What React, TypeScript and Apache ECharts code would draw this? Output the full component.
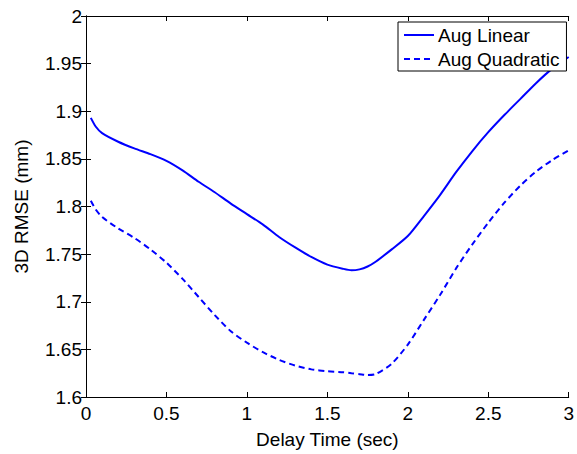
import React, { useEffect, useRef } from "react";
import * as echarts from "echarts";

const delayTimes = [0.03, 0.06, 0.1, 0.2, 0.3, 0.4, 0.5, 0.6, 0.7, 0.8, 0.9, 1.0, 1.1, 1.2, 1.3, 1.4, 1.5, 1.6, 1.65, 1.7, 1.75, 1.8, 1.9, 2.0, 2.1, 2.2, 2.3, 2.4, 2.5, 2.6, 2.7, 2.8, 2.9, 3.0];
const augLinear = [1.893, 1.884, 1.877, 1.868, 1.861, 1.855, 1.848, 1.838, 1.826, 1.815, 1.803, 1.792, 1.781, 1.768, 1.757, 1.747, 1.739, 1.7345, 1.733, 1.734, 1.737, 1.742, 1.755, 1.769, 1.790, 1.812, 1.836, 1.858, 1.878, 1.896, 1.913, 1.930, 1.945, 1.957];
const augQuadratic = [1.806, 1.797, 1.789, 1.777, 1.767, 1.755, 1.741, 1.724, 1.705, 1.686, 1.669, 1.657, 1.647, 1.639, 1.633, 1.629, 1.627, 1.626, 1.625, 1.624, 1.623, 1.624, 1.635, 1.655, 1.681, 1.707, 1.735, 1.760, 1.783, 1.804, 1.822, 1.837, 1.849, 1.859];
const seriesNames = ["Aug Linear", "Aug Quadratic"];

const FONT = "Liberation Sans, Arial, Helvetica, sans-serif";
const FS = 19;

export default function App() {
  const ref = useRef<HTMLDivElement>(null);
  useEffect(() => {
    if (!ref.current) return;
    const chart = echarts.init(ref.current, null, { renderer: "svg" });
    const axisLine = { show: true, lineStyle: { color: "#000", width: 1 } };
    const tick = { show: true, inside: true, length: 5, lineStyle: { color: "#000", width: 1 } };
    chart.setOption({
      animation: false,
      backgroundColor: "#fff",
      textStyle: { fontFamily: FONT, color: "#000" },
      grid: { left: 86, right: 3, top: 16, bottom: 53, containLabel: false },
      legend: {
        data: seriesNames,
        orient: "vertical",
        left: 398,
        top: 22,
        itemWidth: 30,
        itemHeight: 14,
        itemGap: 2,
        padding: [2, 7, 1, 5],
        backgroundColor: "#fff",
        borderColor: "#000",
        borderWidth: 1,
        borderRadius: 0,
        itemStyle: { opacity: 0 },
        textStyle: { fontFamily: FONT, fontSize: FS, lineHeight: 22, color: "#000", padding: [0, 0, 0, -1] },
      },
      xAxis: [
        {
          type: "value",
          min: 0,
          max: 3,
          interval: 0.5,
          name: "Delay Time (sec)",
          nameLocation: "middle",
          nameGap: 33,
          nameTextStyle: { fontFamily: FONT, fontSize: FS, color: "#000" },
          axisLine,
          axisTick: tick,
          axisLabel: { fontFamily: FONT, fontSize: FS, color: "#000", margin: 7 },
          splitLine: { show: false },
        },
        {
          type: "value",
          position: "top",
          min: 0,
          max: 3,
          interval: 0.5,
          axisLine,
          axisTick: tick,
          axisLabel: { show: false },
          splitLine: { show: false },
        },
      ],
      yAxis: [
        {
          type: "value",
          min: 1.6,
          max: 2,
          interval: 0.05,
          name: "3D RMSE (mm)",
          nameLocation: "middle",
          nameGap: 55,
          nameTextStyle: { fontFamily: FONT, fontSize: FS, color: "#000" },
          axisLine,
          axisTick: tick,
          axisLabel: { fontFamily: FONT, fontSize: FS, color: "#000", margin: 4 },
          splitLine: { show: false },
        },
        {
          type: "value",
          position: "right",
          min: 1.6,
          max: 2,
          interval: 0.05,
          axisLine,
          axisTick: tick,
          axisLabel: { show: false },
          splitLine: { show: false },
        },
      ],
      series: [
        {
          name: seriesNames[0],
          type: "line",
          data: delayTimes.map((x, i) => [x, augLinear[i]]),
          smooth: 0.25,
          symbol: "none",
          showSymbol: false,
          lineStyle: { color: "#0000ff", width: 2, type: "solid" },
          itemStyle: { color: "#0000ff" },
        },
        {
          name: seriesNames[1],
          type: "line",
          data: delayTimes.map((x, i) => [x, augQuadratic[i]]),
          smooth: 0.25,
          symbol: "none",
          showSymbol: false,
          lineStyle: { color: "#0000ff", width: 2, type: [6, 4] },
          itemStyle: { color: "#0000ff" },
        },
      ],
    });
    return () => chart.dispose();
  }, []);
  return (
    <div
      ref={ref}
      style={{ position: "fixed", left: 0, top: 0, width: 577, height: 454, background: "#fff" }}
    />
  );
}
